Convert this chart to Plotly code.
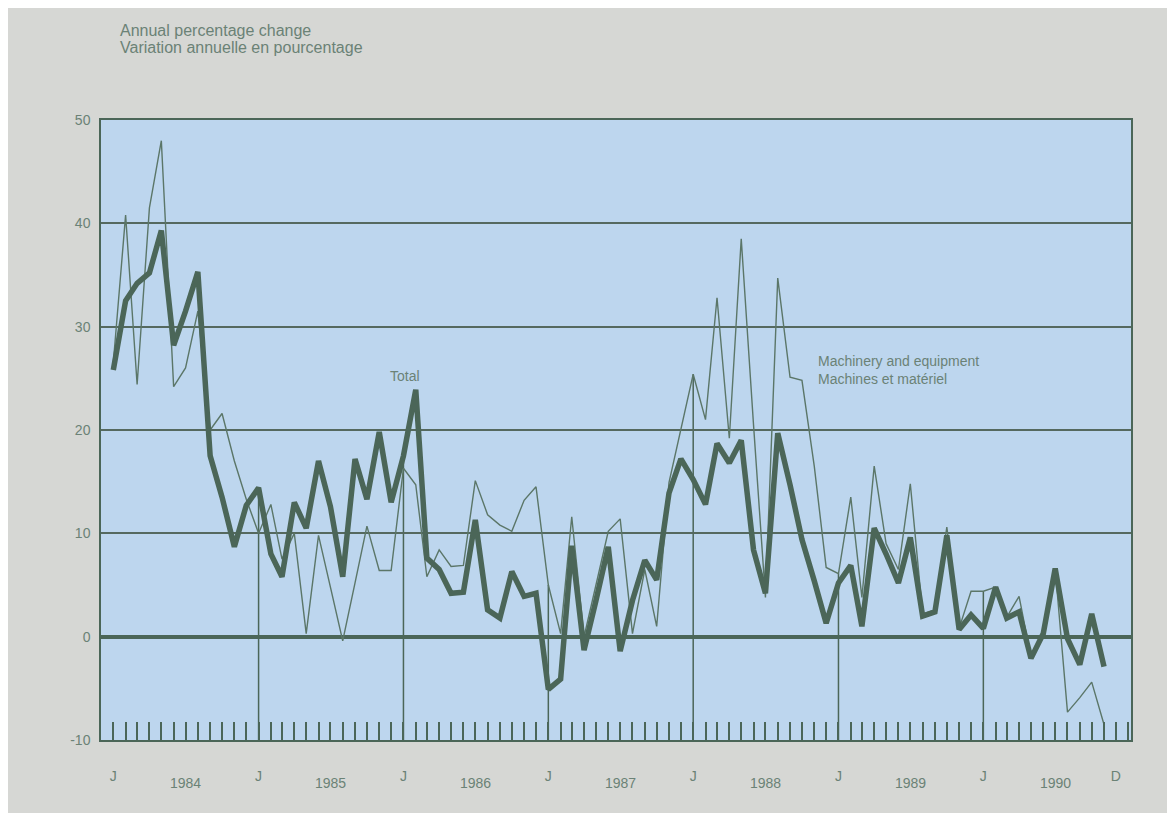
import pandas as pd
import plotly.graph_objects as go

# Monthly data, Jan 1984 - Nov 1990 (annual percentage change)
total = [25.8, 32.5, 34.2, 35.2, 39.3, 28.2, 31.5, 35.3, 17.5, 13.5, 8.7, 12.7,
         14.4, 8.0, 5.8, 13.0, 10.5, 17.0, 12.6, 5.8, 17.2, 13.3, 19.8, 13.0,
         17.5, 23.9, 7.6, 6.5, 4.2, 4.3, 11.3, 2.6, 1.8, 6.3, 3.9, 4.2,
         -5.1, -4.1, 8.8, -1.3, 3.5, 8.7, -1.4, 3.5, 7.4, 5.5, 13.9, 17.2,
         15.2, 12.8, 18.7, 16.8, 19.0, 8.4, 4.2, 19.7, 14.7, 9.4, 5.4, 1.3,
         5.2, 6.9, 1.0, 10.5, 8.0, 5.2, 9.6, 2.0, 2.4, 9.8, 0.7, 2.1,
         0.8, 4.8, 1.8, 2.4, -2.1, 0.3, 6.6, -0.2, -2.7, 2.2, -2.9]
machinery = [26.5, 40.8, 24.4, 41.5, 48.0, 24.2, 26.0, 31.5, 20.0, 21.6, 17.0, 13.3,
             10.0, 12.8, 7.5, 10.0, 0.3, 9.8, 4.8, -0.4, 5.2, 10.7, 6.4, 6.4,
             16.3, 14.7, 5.8, 8.4, 6.8, 6.9, 15.1, 11.8, 10.8, 10.2, 13.2, 14.5,
             5.0, 0.3, 11.6, 0.0, 5.0, 10.2, 11.4, 0.3, 6.5, 1.0, 14.9, 20.0,
             25.4, 21.0, 32.8, 19.2, 38.5, 20.5, 3.8, 34.7, 25.1, 24.8, 16.5, 6.7,
             6.1, 13.5, 3.8, 16.5, 9.0, 6.5, 14.8, 2.2, 2.6, 10.6, 0.8, 4.4,
             4.4, 4.8, 1.9, 3.9, -2.0, 0.3, 6.6, -7.3, -5.9, -4.4, -8.5]
months = pd.date_range("1984-01-01", periods=len(total), freq="MS")

tick_dates = ["1984-01-01", "1985-01-01", "1986-01-01", "1987-01-01", "1988-01-01",
              "1989-01-01", "1990-01-01", "1990-12-01"]
tick_labels = ["J", "J", "J", "J", "J", "J", "J", "D"]
year_labels = ["1984", "1985", "1986", "1987", "1988", "1989", "1990"]
year_pos = ["1984-07-01", "1985-07-01", "1986-07-01", "1987-07-01", "1988-07-01",
            "1989-07-01", "1990-07-01"]
y_ticks = [-10, 0, 10, 20, 30, 40, 50]
y_tick_text = ["-10", "0", "10", "20", "30", "40", "50"]
title_lines = ["Annual percentage change", "Variation annuelle en pourcentage"]

LINE = "#4b6658"
TEXT = "#6b8276"
FONT = "Liberation Sans, Arial, sans-serif"

fig = go.Figure()
fig.add_trace(go.Scatter(x=months, y=machinery, mode="lines",
                         line=dict(color="#5b7668", width=1.4), name="Machinery"))
fig.add_trace(go.Scatter(x=months, y=total, mode="lines",
                         line=dict(color=LINE, width=5.5), name="Total"))

# vertical lines at each January, from bottom up to the data
for d in tick_dates[1:-1]:
    idx = list(months).index(pd.Timestamp(d))
    top = max(total[idx], machinery[idx])
    fig.add_shape(type="line", xref="x", yref="y", x0=d, x1=d, y0=-10, y1=top,
                  line=dict(color=LINE, width=1.5), layer="below")

for lab, pos in zip(year_labels, year_pos):
    fig.add_annotation(x=pos, y=-10, xref="x", yref="y", text=lab, showarrow=False,
                       yshift=-43, font=dict(family=FONT, size=14, color=TEXT))

for k, line in enumerate(title_lines):
    fig.add_annotation(x=0.0, y=1.0, xref="paper", yref="paper", xanchor="left",
                       yanchor="middle", text=line, showarrow=False, align="left",
                       xshift=17, yshift=90 - 17 * k,
                       font=dict(family=FONT, size=16, color=TEXT))
fig.add_annotation(x="1986-01-05", y=25.2, xref="x", yref="y", text="Total", showarrow=False,
                   font=dict(family=FONT, size=14, color=TEXT))
fig.add_annotation(x="1988-11-05", y=25.8, xref="x", yref="y", xanchor="left",
                   text="Machinery and equipment<br>Machines et matériel", showarrow=False,
                   align="left", font=dict(family=FONT, size=14, color=TEXT))

fig.update_layout(
    width=1167, height=805,
    margin=dict(l=93, r=44, t=112, b=73),
    paper_bgcolor="#d6d7d4",
    plot_bgcolor="#bdd6ee",
    showlegend=False,
    font=dict(family=FONT, size=14, color=TEXT),
)
fig.update_xaxes(
    range=["1983-12-01", "1991-01-08"],
    tickvals=tick_dates, ticktext=tick_labels,
    ticks="inside", ticklen=18, tickwidth=1.5, tickcolor=LINE,
    minor=dict(dtick="M1", tick0="1984-01-01", ticks="inside", ticklen=18,
               tickwidth=1.5, tickcolor=LINE, showgrid=False),
    showgrid=False, showline=True, linecolor=LINE, linewidth=1.5, mirror=True,
    ticklabelstandoff=22, tickfont=dict(family=FONT, size=14, color=TEXT),
)
fig.update_yaxes(
    range=[-10, 50], tickvals=y_ticks, ticktext=y_tick_text,
    showgrid=True, gridcolor="#55695f", gridwidth=1.5,
    zeroline=True, zerolinecolor=LINE, zerolinewidth=3.5,
    showline=True, linecolor=LINE, linewidth=1.5, mirror=True,
    ticks="", ticklabelstandoff=6, tickfont=dict(family=FONT, size=14, color=TEXT),
)

fig.write_html("out.html")
